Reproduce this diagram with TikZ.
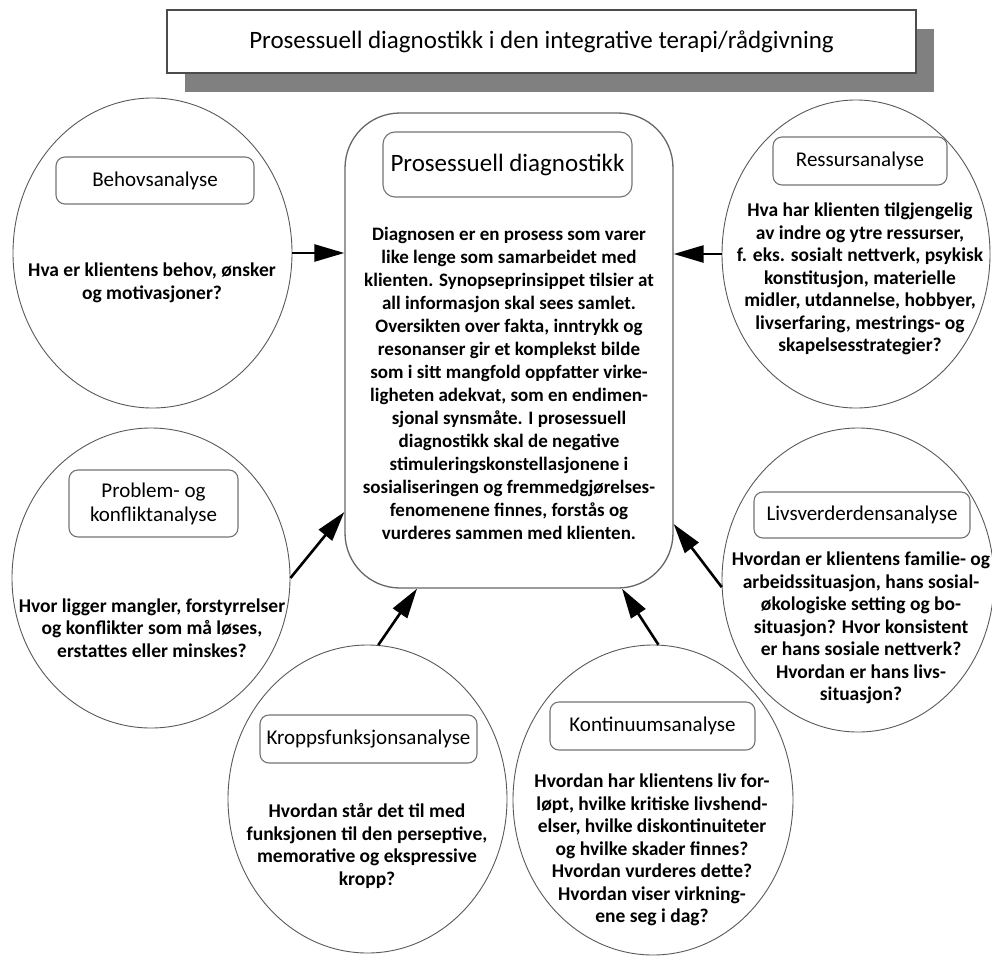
\documentclass[tikz,border=0pt]{standalone}
\usepackage{fontspec}
\setmainfont{Carlito}
\usetikzlibrary{shapes.geometric,arrows.meta,calc}
\tikzset{
  oval/.style={ellipse, draw=black!65, line width=0.9pt, inner sep=0pt},
  headbox/.style={draw=black!55, line width=1.1pt, rounded corners=9pt, align=center, inner sep=0pt, font=\fontsize{21}{24}\selectfont},
  bodytext/.style={align=center, inner sep=0pt, font=\bfseries\fontsize{19.5}{22.5}\selectfont},
  link/.style={line width=2.6pt, -{Triangle[length=30pt,width=17pt]}},
}
\begin{document}
\begin{tikzpicture}[x=1pt,y=-1pt]
\useasboundingbox (0,0) rectangle (992,958);
% title
\node[fill=black!50, minimum width=749pt, minimum height=63pt, inner sep=0pt] (titleshadow) at (559.5,60.5) {};
\node[fill=white, draw=black!70, line width=1.3pt, minimum width=749pt, minimum height=63pt, inner sep=0pt, font=\fontsize{25}{28}\selectfont] (title) at (541.5,41.5) {Prosessuell diagnostikk i den integrative terapi/rådgivning};
% ovals
\node[oval, minimum width=279pt, minimum height=310pt] (behov) at (152.5,253) {};
\node[oval, minimum width=268pt, minimum height=308pt] (res) at (856,254) {};
\node[oval, minimum width=278pt, minimum height=300pt] (prob) at (151,578) {};
\node[oval, minimum width=272pt, minimum height=304pt] (livs) at (858,580) {};
\node[oval, minimum width=279pt, minimum height=308pt] (krop) at (367.5,799) {};
\node[oval, minimum width=280pt, minimum height=310pt] (kont) at (653,800) {};
% centre box
\node[draw=black!60, line width=1.3pt, rounded corners=55pt, minimum width=328pt, minimum height=475pt, inner sep=0pt] (core) at (509,350.5) {};
\node[headbox, rounded corners=12pt, minimum width=249pt, minimum height=65pt, font=\fontsize{25}{28}\selectfont] (coreh) at (507.5,164.5) {Prosessuell diagnostikk};
\node[bodytext, font=\bfseries\fontsize{19}{23}\selectfont] (coret) at (509,383) {Diagnosen er en prosess som varer\\like lenge som samarbeidet med\\klienten. Synopseprinsippet tilsier at\\all informasjon skal sees samlet.\\Oversikten over fakta, inntrykk og\\resonanser gir et komplekst bilde\\som i sitt mangfold oppfatter virke-\\ligheten adekvat, som en endimen-\\sjonal synsmåte. I prosessuell\\diagnostikk skal de negative\\stimuleringskonstellasjonene i\\sosialiseringen og fremmedgjørelses-\\fenomenene finnes, forstås og\\vurderes sammen med klienten.};
% headings
\node[headbox, minimum width=198pt, minimum height=47pt] (behovh) at (155,180.5) {Behovsanalyse};
\node[headbox, minimum width=174pt, minimum height=48pt] (resh) at (860,161) {Ressursanalyse};
\node[headbox, minimum width=169pt, minimum height=67pt] (probh) at (153.5,503.5) {Problem- og\\konfliktanalyse};
\node[headbox, minimum width=216pt, minimum height=46pt] (livsh) at (862,515) {Livsverderdensanalyse};
\node[headbox, minimum width=217pt, minimum height=48pt] (kroph) at (368.5,739) {Kroppsfunksjonsanalyse};
\node[headbox, minimum width=205pt, minimum height=48pt] (konth) at (652.5,726) {Kontinuumsanalyse};
% texts
\node[bodytext] (behovt) at (152,283) {Hva er klientens behov, ønsker\\og motivasjoner?};
\node[bodytext] (rest) at (860,279) {Hva har klienten tilgjengelig\\av indre og ytre ressurser,\\f. eks. sosialt nettverk, psykisk\\konstitusjon, materielle\\midler, utdannelse, hobbyer,\\livserfaring, mestrings- og\\skapelsesstrategier?};
\node[bodytext] (probt) at (152,628) {Hvor ligger mangler, forstyrrelser\\og konflikter som må løses,\\erstattes eller minskes?};
\node[bodytext] (livst) at (861,628) {Hvordan er klientens familie- og\\arbeidssituasjon, hans sosial-\\økologiske setting og bo-\\situasjon? Hvor konsistent\\er hans sosiale nettverk?\\Hvordan er hans livs-\\situasjon?};
\node[bodytext] (kropt) at (367,846) {Hvordan står det til med\\funksjonen til den perseptive,\\memorative og ekspressive\\kropp?};
\node[bodytext] (kontt) at (652,850) {Hvordan har klientens liv for-\\løpt, hvilke kritiske livshend-\\elser, hvilke diskontinuiteter\\og hvilke skader finnes?\\Hvordan vurderes dette?\\Hvordan viser virkning-\\ene seg i dag?};
% arrows
\draw[link] (behov.east) -- (behov.east -| core.west);
\draw[link] (res.west) -- (res.west -| core.east);
\draw[link] (prob.east) -- ($(core.west)+(0,161.5)$);
\draw[link] (livs.183) -- ($(core.east)+(0,173.5)$);
\draw[link] (krop.86) -- ($(core.south)+(-92,0)$);
\draw[link] (kont.88) -- ($(core.south)+(113,0)$);
\end{tikzpicture}
\end{document}
